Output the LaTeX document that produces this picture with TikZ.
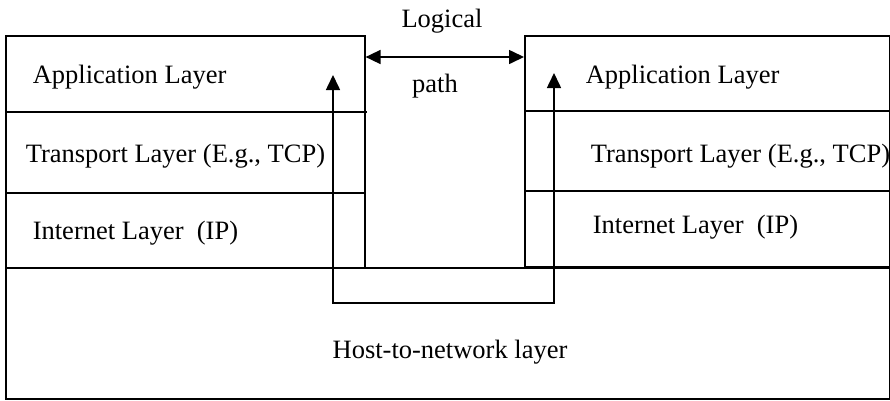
\documentclass[tikz,border=0pt]{standalone}
\usepackage{fontspec}
\setmainfont{Liberation Serif}
\usetikzlibrary{arrows.meta}
\begin{document}
\begin{tikzpicture}[x=1pt,y=-1pt, line width=1.6pt,
  lbl/.style={inner sep=0pt, anchor=base west, font=\fontsize{26.5}{30}\selectfont},
  clbl/.style={lbl, anchor=base},
  box/.style={draw, rectangle, inner sep=0pt, anchor=north west},
  twotips/.style={{Triangle[length=15pt,width=14pt]}-{Triangle[length=15pt,width=14pt]}}]
\useasboundingbox (0,0) rectangle (890,400);
% boxes
\node[box, minimum width=359pt, minimum height=232pt] (hostL) at (5,35) {};
\node[box, minimum width=365pt, minimum height=231pt] (hostR) at (524,35) {};
\node[box, minimum width=884pt, minimum height=131pt] (net) at (5,267) {};
% layer separators
\draw (hostL.west |- 0,112) -- (367,112);
\draw (hostL.west |- 0,193) -- (hostL.east |- 0,193);
\draw (hostR.west |- 0,111) -- (hostR.east |- 0,111);
\draw (hostR.west |- 0,191) -- (hostR.east |- 0,191);
% labels
\node[lbl] (appL) at (32,83) {Application Layer};
\node[lbl] (trL) at (25,162) {Transport Layer (E.g., TCP)};
\node[lbl] (inL) at (32,239) {Internet Layer\ \ (IP)};
\node[lbl] (appR) at (585,83) {Application Layer};
\node[lbl] (trR) at (590,162) {Transport Layer (E.g., TCP)};
\node[lbl] (inR) at (592,233) {Internet Layer\ \ (IP)};
\node[clbl] (logical) at (442,27) {Logical};
\node[clbl] (path) at (435,92) {path};
\node[clbl] (hostnet) at (450,358) {Host-to-network layer};
% logical path arrow
\draw[twotips] (hostL.east |- 0,57) -- (hostR.west |- 0,57);
% physical path
\coordinate (tipL) at (333,75);
\coordinate (tipR) at (554,73);
\coordinate (botL) at (333,303);
\coordinate (botR) at (554,303);
\draw[twotips] (tipL) -- (botL) -- (botR) -- (tipR);
\end{tikzpicture}
\end{document}
